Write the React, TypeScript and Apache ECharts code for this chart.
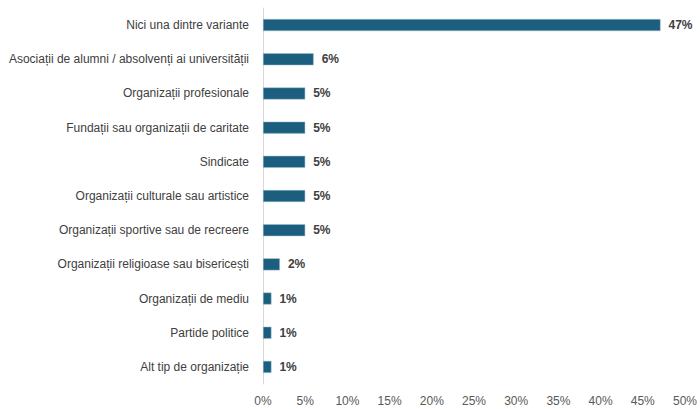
import React, { useEffect, useRef } from "react";
import * as echarts from "echarts";

const categories = [
  "Nici una dintre variante",
  "Asociații de alumni / absolvenți ai universității",
  "Organizații profesionale",
  "Fundații sau organizații de caritate",
  "Sindicate",
  "Organizații culturale sau artistice",
  "Organizații sportive sau de recreere",
  "Organizații religioase sau bisericești",
  "Organizații de mediu",
  "Partide politice",
  "Alt tip de organizație",
];
const values = [47.1, 6.0, 5.0, 5.0, 5.0, 5.0, 5.0, 2.0, 1.0, 1.0, 1.0];

const FONT = "'Liberation Sans', Arial, sans-serif";

export default function App() {
  const ref = useRef<HTMLDivElement>(null);
  useEffect(() => {
    if (!ref.current) return;
    const chart = echarts.init(ref.current, null, { renderer: "svg" });
    chart.setOption({
      animation: false,
      grid: { left: 263, right: 13, top: 8, bottom: 25, containLabel: false },
      xAxis: {
        type: "value",
        min: 0,
        max: 50,
        interval: 5,
        axisLine: { show: false },
        axisTick: { show: false },
        splitLine: { show: false },
        axisLabel: {
          formatter: "{value}%",
          color: "#595959",
          fontSize: 12,
          fontFamily: FONT,
          margin: 11,
        },
      },
      yAxis: {
        type: "category",
        inverse: true,
        data: categories,
        axisLine: { show: true, lineStyle: { color: "#d9d9d9", width: 1 } },
        axisTick: { show: false },
        axisLabel: {
          color: "#404040",
          fontSize: 12,
          fontFamily: FONT,
          margin: 14,
        },
      },
      series: [
        {
          type: "bar",
          data: values,
          barWidth: 12,
          itemStyle: { color: "#1b5e7e", borderColor: "#9fc0d3", borderWidth: 0.5 },
          label: {
            show: true,
            position: "right",
            distance: 8,
            formatter: (p: any) => Math.round(p.value) + "%",
            color: "#404040",
            fontWeight: "bold",
            fontSize: 12,
            fontFamily: FONT,
          },
        },
      ],
    });
    return () => chart.dispose();
  }, []);
  return <div ref={ref} style={{ width: 700, height: 409, position: "absolute", left: 0, top: 0 }} />;
}
